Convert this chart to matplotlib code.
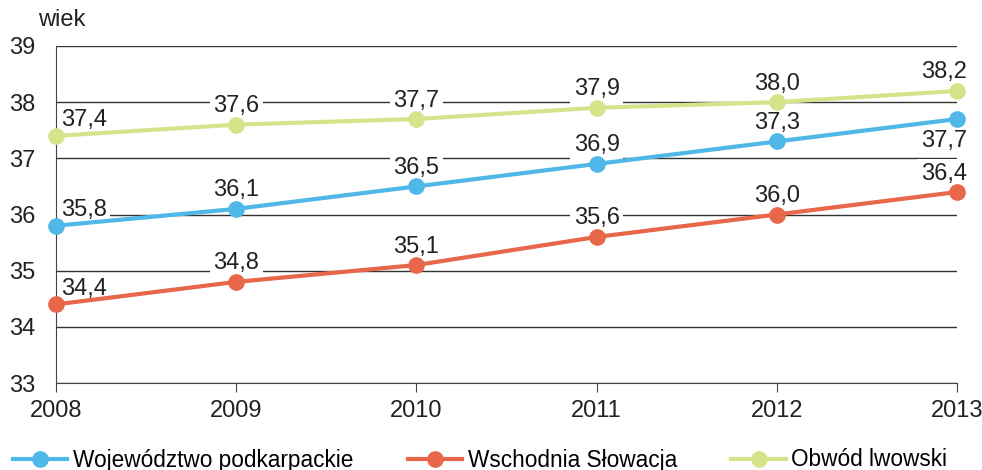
import matplotlib.pyplot as plt

plt.rcParams['font.family'] = ['Liberation Sans', 'DejaVu Sans']

years = [2008, 2009, 2010, 2011, 2012, 2013]
podkarpackie = [35.8, 36.1, 36.5, 36.9, 37.3, 37.7]
slowacja = [34.4, 34.8, 35.1, 35.6, 36.0, 36.4]
lwowski = [37.4, 37.6, 37.7, 37.9, 38.0, 38.2]
series_names = ['Województwo podkarpackie', 'Wschodnia Słowacja', 'Obwód lwowski']
colors = ['#4fb8e8', '#e8674a', '#d5e48a']

fig = plt.figure(figsize=(9.82, 4.70), dpi=100)
ax = fig.add_axes([56 / 982, 1 - 383 / 470, 901 / 982, 337 / 470])

ax.set_ylim(33, 39)
ax.set_xlim(2008, 2013)
ax.set_yticks(range(33, 40))
ax.set_xticks(years)
ax.set_axisbelow(True)
ax.grid(axis='y', color='#333333', linewidth=1)
for s in ['top', 'right']:
    ax.spines[s].set_visible(False)
ax.spines['left'].set_color('#444444')
ax.spines['bottom'].set_color('#444444')
ax.tick_params(axis='y', length=0, pad=15, labelsize=17, colors='#222222')
ax.tick_params(axis='x', length=6.5, direction='out', pad=6, labelsize=17,
               colors='#444444', labelcolor='#222222')

for vals, name, c in zip([podkarpackie, slowacja, lwowski], series_names, colors):
    ax.plot(years, vals, color=c, linewidth=3, marker='o', markersize=11,
            label=name, zorder=3, clip_on=False)


def fmt(v):
    return f'{v:.1f}'.replace('.', ',')


def put_labels(vals, last_below=False):
    for i, (x, v) in enumerate(zip(years, vals)):
        if i == 0:
            ha, dx, dy = 'left', 3.6, 7
        elif i == len(years) - 1:
            ha, dx, dy = 'right', 7, 9
            if last_below:
                dy = -20
        else:
            ha, dx, dy = 'center', 0, 9
        ax.annotate(fmt(v), (x, v), xytext=(dx, dy), textcoords='offset points',
                    ha=ha, va='baseline', fontsize=17, color='#222222', zorder=1,
                    annotation_clip=False,
                    bbox=dict(boxstyle='square,pad=0.15', fc='white', ec='none'))


put_labels(podkarpackie, last_below=True)
put_labels(slowacja)
put_labels(lwowski)

fig.text(38 / 982, 1 - 20 / 470, 'wiek', fontsize=17, ha='left', va='center', color='#222222')

fig.legend(loc='center', bbox_to_anchor=(0.489, 1 - 460 / 470), ncol=3, frameon=False,
           fontsize=16.3, handlelength=2.4, handletextpad=0.25, columnspacing=2.4,
           borderpad=0)

fig.savefig('out.png', dpi=100)
